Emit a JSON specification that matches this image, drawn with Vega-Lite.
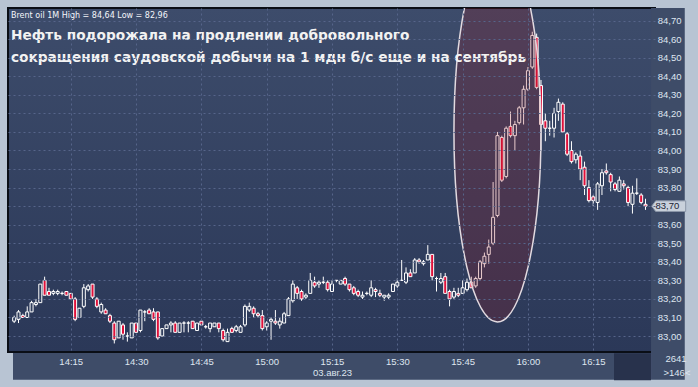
{
  "$schema": "https://vega.github.io/schema/vega-lite/v6.json",
  "width": 647,
  "height": 344,
  "autosize": {"type": "none"},
  "padding": {"left": 8, "top": 8, "right": 43, "bottom": 35},
  "background": "#b8c4d3",
  "title": {
    "text": "Brent oil 1M High = 84,64 Low = 82,96",
    "subtitle": ["Нефть подорожала на продлении добровольного", "сокращения саудовской добычи на 1 мдн б/с еще и на сентябрь"],
    "anchor": "start",
    "frame": "group",
    "orient": "top",
    "offset": -57,
    "dx": 3,
    "font": "DejaVu Sans",
    "fontSize": 8,
    "fontWeight": "normal",
    "color": "#f4f6fa",
    "subtitleFont": "DejaVu Sans",
    "subtitleFontSize": 13.7,
    "subtitleFontWeight": "bold",
    "subtitleColor": "#f2f2f2",
    "subtitleLineHeight": 22.5,
    "subtitlePadding": 9
  },
  "datasets": {
    "candles": [
      {"t":"2023-08-03T14:02","o":83.08,"h":83.11,"l":83.07,"c":83.10},
      {"t":"2023-08-03T14:03","o":83.09,"h":83.14,"l":83.07,"c":83.13},
      {"t":"2023-08-03T14:04","o":83.11,"h":83.12,"l":83.10,"c":83.10},
      {"t":"2023-08-03T14:05","o":83.10,"h":83.16,"l":83.10,"c":83.13},
      {"t":"2023-08-03T14:06","o":83.13,"h":83.19,"l":83.13,"c":83.18},
      {"t":"2023-08-03T14:07","o":83.17,"h":83.20,"l":83.16,"c":83.18},
      {"t":"2023-08-03T14:08","o":83.18,"h":83.28,"l":83.18,"c":83.28},
      {"t":"2023-08-03T14:09","o":83.30,"h":83.32,"l":83.22,"c":83.22},
      {"t":"2023-08-03T14:10","o":83.24,"h":83.26,"l":83.22,"c":83.22},
      {"t":"2023-08-03T14:11","o":83.23,"h":83.25,"l":83.22,"c":83.24},
      {"t":"2023-08-03T14:12","o":83.23,"h":83.25,"l":83.22,"c":83.24},
      {"t":"2023-08-03T14:13","o":83.23,"h":83.24,"l":83.22,"c":83.23},
      {"t":"2023-08-03T14:14","o":83.24,"h":83.24,"l":83.22,"c":83.22},
      {"t":"2023-08-03T14:15","o":83.23,"h":83.23,"l":83.20,"c":83.20},
      {"t":"2023-08-03T14:16","o":83.20,"h":83.21,"l":83.08,"c":83.09},
      {"t":"2023-08-03T14:17","o":83.10,"h":83.15,"l":83.10,"c":83.15},
      {"t":"2023-08-03T14:18","o":83.16,"h":83.28,"l":83.15,"c":83.26},
      {"t":"2023-08-03T14:19","o":83.25,"h":83.28,"l":83.24,"c":83.27},
      {"t":"2023-08-03T14:20","o":83.28,"h":83.28,"l":83.20,"c":83.21},
      {"t":"2023-08-03T14:21","o":83.20,"h":83.21,"l":83.15,"c":83.16},
      {"t":"2023-08-03T14:22","o":83.13,"h":83.18,"l":83.12,"c":83.17},
      {"t":"2023-08-03T14:23","o":83.14,"h":83.15,"l":83.12,"c":83.12},
      {"t":"2023-08-03T14:24","o":83.11,"h":83.12,"l":83.07,"c":83.08},
      {"t":"2023-08-03T14:25","o":83.07,"h":83.08,"l":82.96,"c":82.98},
      {"t":"2023-08-03T14:26","o":82.99,"h":83.08,"l":82.99,"c":83.08},
      {"t":"2023-08-03T14:27","o":83.06,"h":83.07,"l":82.98,"c":83.01},
      {"t":"2023-08-03T14:28","o":83.00,"h":83.02,"l":82.97,"c":83.00},
      {"t":"2023-08-03T14:29","o":82.99,"h":83.07,"l":82.99,"c":83.07},
      {"t":"2023-08-03T14:30","o":83.07,"h":83.07,"l":83.02,"c":83.02},
      {"t":"2023-08-03T14:31","o":83.03,"h":83.14,"l":83.02,"c":83.14},
      {"t":"2023-08-03T14:32","o":83.13,"h":83.14,"l":83.08,"c":83.13},
      {"t":"2023-08-03T14:33","o":83.14,"h":83.15,"l":83.12,"c":83.12},
      {"t":"2023-08-03T14:34","o":83.13,"h":83.15,"l":83.08,"c":83.09},
      {"t":"2023-08-03T14:35","o":83.13,"h":83.13,"l":82.98,"c":82.99},
      {"t":"2023-08-03T14:36","o":83.00,"h":83.04,"l":83.00,"c":83.04},
      {"t":"2023-08-03T14:37","o":83.04,"h":83.06,"l":83.04,"c":83.06},
      {"t":"2023-08-03T14:38","o":83.06,"h":83.08,"l":83.02,"c":83.07},
      {"t":"2023-08-03T14:39","o":83.07,"h":83.08,"l":83.02,"c":83.02},
      {"t":"2023-08-03T14:40","o":83.02,"h":83.07,"l":83.02,"c":83.07},
      {"t":"2023-08-03T14:41","o":83.07,"h":83.08,"l":83.02,"c":83.07},
      {"t":"2023-08-03T14:42","o":83.07,"h":83.08,"l":83.02,"c":83.07},
      {"t":"2023-08-03T14:43","o":83.08,"h":83.08,"l":83.04,"c":83.04},
      {"t":"2023-08-03T14:44","o":83.03,"h":83.07,"l":83.03,"c":83.07},
      {"t":"2023-08-03T14:45","o":83.08,"h":83.08,"l":83.06,"c":83.06},
      {"t":"2023-08-03T14:46","o":83.05,"h":83.06,"l":83.04,"c":83.05},
      {"t":"2023-08-03T14:47","o":83.04,"h":83.07,"l":83.02,"c":83.07},
      {"t":"2023-08-03T14:48","o":83.05,"h":83.07,"l":83.05,"c":83.07},
      {"t":"2023-08-03T14:49","o":83.07,"h":83.07,"l":83.02,"c":83.04},
      {"t":"2023-08-03T14:50","o":83.03,"h":83.04,"l":82.97,"c":82.98},
      {"t":"2023-08-03T14:51","o":82.97,"h":83.04,"l":82.97,"c":83.02},
      {"t":"2023-08-03T14:52","o":83.04,"h":83.05,"l":83.02,"c":83.02},
      {"t":"2023-08-03T14:53","o":83.03,"h":83.06,"l":83.02,"c":83.05},
      {"t":"2023-08-03T14:54","o":83.02,"h":83.06,"l":83.02,"c":83.05},
      {"t":"2023-08-03T14:55","o":83.06,"h":83.17,"l":83.05,"c":83.16},
      {"t":"2023-08-03T14:56","o":83.14,"h":83.18,"l":83.13,"c":83.16},
      {"t":"2023-08-03T14:57","o":83.15,"h":83.16,"l":83.10,"c":83.12},
      {"t":"2023-08-03T14:58","o":83.12,"h":83.13,"l":83.10,"c":83.11},
      {"t":"2023-08-03T14:59","o":83.11,"h":83.14,"l":83.03,"c":83.04},
      {"t":"2023-08-03T15:00","o":83.05,"h":83.08,"l":83.03,"c":83.07},
      {"t":"2023-08-03T15:01","o":83.08,"h":83.10,"l":82.98,"c":83.09},
      {"t":"2023-08-03T15:02","o":83.08,"h":83.14,"l":83.06,"c":83.07},
      {"t":"2023-08-03T15:03","o":83.06,"h":83.10,"l":83.04,"c":83.08},
      {"t":"2023-08-03T15:04","o":83.07,"h":83.13,"l":83.07,"c":83.12},
      {"t":"2023-08-03T15:05","o":83.11,"h":83.21,"l":83.11,"c":83.20},
      {"t":"2023-08-03T15:06","o":83.19,"h":83.30,"l":83.18,"c":83.28},
      {"t":"2023-08-03T15:07","o":83.26,"h":83.27,"l":83.20,"c":83.23},
      {"t":"2023-08-03T15:08","o":83.24,"h":83.25,"l":83.19,"c":83.20},
      {"t":"2023-08-03T15:09","o":83.21,"h":83.23,"l":83.20,"c":83.22},
      {"t":"2023-08-03T15:10","o":83.23,"h":83.34,"l":83.23,"c":83.30},
      {"t":"2023-08-03T15:11","o":83.29,"h":83.32,"l":83.26,"c":83.27},
      {"t":"2023-08-03T15:12","o":83.28,"h":83.30,"l":83.26,"c":83.29},
      {"t":"2023-08-03T15:13","o":83.29,"h":83.32,"l":83.28,"c":83.29},
      {"t":"2023-08-03T15:14","o":83.29,"h":83.30,"l":83.24,"c":83.25},
      {"t":"2023-08-03T15:15","o":83.24,"h":83.30,"l":83.24,"c":83.28},
      {"t":"2023-08-03T15:16","o":83.30,"h":83.30,"l":83.29,"c":83.30},
      {"t":"2023-08-03T15:17","o":83.28,"h":83.30,"l":83.28,"c":83.30},
      {"t":"2023-08-03T15:18","o":83.31,"h":83.32,"l":83.27,"c":83.28},
      {"t":"2023-08-03T15:19","o":83.28,"h":83.28,"l":83.24,"c":83.25},
      {"t":"2023-08-03T15:20","o":83.26,"h":83.27,"l":83.22,"c":83.23},
      {"t":"2023-08-03T15:21","o":83.24,"h":83.25,"l":83.21,"c":83.22},
      {"t":"2023-08-03T15:22","o":83.21,"h":83.24,"l":83.20,"c":83.22},
      {"t":"2023-08-03T15:23","o":83.23,"h":83.24,"l":83.22,"c":83.23},
      {"t":"2023-08-03T15:24","o":83.22,"h":83.30,"l":83.21,"c":83.26},
      {"t":"2023-08-03T15:25","o":83.25,"h":83.26,"l":83.21,"c":83.24},
      {"t":"2023-08-03T15:26","o":83.23,"h":83.25,"l":83.21,"c":83.22},
      {"t":"2023-08-03T15:27","o":83.21,"h":83.22,"l":83.19,"c":83.22},
      {"t":"2023-08-03T15:28","o":83.21,"h":83.23,"l":83.20,"c":83.22},
      {"t":"2023-08-03T15:29","o":83.24,"h":83.28,"l":83.24,"c":83.28},
      {"t":"2023-08-03T15:30","o":83.27,"h":83.31,"l":83.26,"c":83.29},
      {"t":"2023-08-03T15:31","o":83.30,"h":83.41,"l":83.30,"c":83.30},
      {"t":"2023-08-03T15:32","o":83.29,"h":83.37,"l":83.28,"c":83.34},
      {"t":"2023-08-03T15:33","o":83.34,"h":83.36,"l":83.32,"c":83.32},
      {"t":"2023-08-03T15:34","o":83.34,"h":83.42,"l":83.34,"c":83.41},
      {"t":"2023-08-03T15:35","o":83.41,"h":83.42,"l":83.39,"c":83.40},
      {"t":"2023-08-03T15:36","o":83.39,"h":83.41,"l":83.38,"c":83.40},
      {"t":"2023-08-03T15:37","o":83.41,"h":83.49,"l":83.41,"c":83.44},
      {"t":"2023-08-03T15:38","o":83.44,"h":83.44,"l":83.30,"c":83.32},
      {"t":"2023-08-03T15:39","o":83.31,"h":83.32,"l":83.24,"c":83.31},
      {"t":"2023-08-03T15:40","o":83.29,"h":83.34,"l":83.28,"c":83.31},
      {"t":"2023-08-03T15:41","o":83.32,"h":83.34,"l":83.23,"c":83.23},
      {"t":"2023-08-03T15:42","o":83.24,"h":83.25,"l":83.16,"c":83.20},
      {"t":"2023-08-03T15:43","o":83.21,"h":83.26,"l":83.20,"c":83.24},
      {"t":"2023-08-03T15:44","o":83.23,"h":83.26,"l":83.21,"c":83.22},
      {"t":"2023-08-03T15:45","o":83.23,"h":83.30,"l":83.23,"c":83.26},
      {"t":"2023-08-03T15:46","o":83.25,"h":83.31,"l":83.24,"c":83.29},
      {"t":"2023-08-03T15:47","o":83.29,"h":83.32,"l":83.26,"c":83.26},
      {"t":"2023-08-03T15:48","o":83.27,"h":83.32,"l":83.26,"c":83.31},
      {"t":"2023-08-03T15:49","o":83.31,"h":83.41,"l":83.30,"c":83.40},
      {"t":"2023-08-03T15:50","o":83.39,"h":83.45,"l":83.37,"c":83.43},
      {"t":"2023-08-03T15:51","o":83.44,"h":83.52,"l":83.39,"c":83.48},
      {"t":"2023-08-03T15:52","o":83.50,"h":83.83,"l":83.49,"c":83.64},
      {"t":"2023-08-03T15:53","o":83.65,"h":84.10,"l":83.64,"c":84.08},
      {"t":"2023-08-03T15:54","o":84.07,"h":84.08,"l":83.83,"c":83.84},
      {"t":"2023-08-03T15:55","o":83.86,"h":84.13,"l":83.85,"c":84.12},
      {"t":"2023-08-03T15:56","o":84.13,"h":84.21,"l":84.07,"c":84.08},
      {"t":"2023-08-03T15:57","o":84.08,"h":84.16,"l":84.00,"c":84.14},
      {"t":"2023-08-03T15:58","o":84.15,"h":84.24,"l":84.14,"c":84.23},
      {"t":"2023-08-03T15:59","o":84.23,"h":84.35,"l":84.14,"c":84.33},
      {"t":"2023-08-03T16:00","o":84.33,"h":84.45,"l":84.32,"c":84.43},
      {"t":"2023-08-03T16:01","o":84.45,"h":84.64,"l":84.44,"c":84.62},
      {"t":"2023-08-03T16:02","o":84.61,"h":84.63,"l":84.33,"c":84.34},
      {"t":"2023-08-03T16:03","o":84.35,"h":84.38,"l":84.00,"c":84.14},
      {"t":"2023-08-03T16:04","o":84.16,"h":84.20,"l":84.05,"c":84.12},
      {"t":"2023-08-03T16:05","o":84.12,"h":84.16,"l":84.08,"c":84.12},
      {"t":"2023-08-03T16:06","o":84.12,"h":84.23,"l":84.07,"c":84.20},
      {"t":"2023-08-03T16:07","o":84.21,"h":84.28,"l":84.16,"c":84.26},
      {"t":"2023-08-03T16:08","o":84.25,"h":84.26,"l":84.10,"c":84.10},
      {"t":"2023-08-03T16:09","o":84.09,"h":84.10,"l":83.97,"c":83.98},
      {"t":"2023-08-03T16:10","o":84.00,"h":84.05,"l":83.93,"c":83.94},
      {"t":"2023-08-03T16:11","o":83.95,"h":83.99,"l":83.93,"c":83.98},
      {"t":"2023-08-03T16:12","o":83.97,"h":84.00,"l":83.84,"c":83.90},
      {"t":"2023-08-03T16:13","o":83.91,"h":83.94,"l":83.76,"c":83.81},
      {"t":"2023-08-03T16:14","o":83.80,"h":83.84,"l":83.72,"c":83.73},
      {"t":"2023-08-03T16:15","o":83.75,"h":83.76,"l":83.70,"c":83.73},
      {"t":"2023-08-03T16:16","o":83.72,"h":83.83,"l":83.68,"c":83.82},
      {"t":"2023-08-03T16:17","o":83.81,"h":83.90,"l":83.76,"c":83.88},
      {"t":"2023-08-03T16:18","o":83.89,"h":83.93,"l":83.87,"c":83.88},
      {"t":"2023-08-03T16:19","o":83.87,"h":83.88,"l":83.78,"c":83.83},
      {"t":"2023-08-03T16:20","o":83.82,"h":83.83,"l":83.78,"c":83.79},
      {"t":"2023-08-03T16:21","o":83.78,"h":83.86,"l":83.78,"c":83.84},
      {"t":"2023-08-03T16:22","o":83.82,"h":83.84,"l":83.79,"c":83.81},
      {"t":"2023-08-03T16:23","o":83.80,"h":83.81,"l":83.70,"c":83.72},
      {"t":"2023-08-03T16:24","o":83.71,"h":83.81,"l":83.66,"c":83.77},
      {"t":"2023-08-03T16:25","o":83.77,"h":83.85,"l":83.76,"c":83.77},
      {"t":"2023-08-03T16:26","o":83.76,"h":83.77,"l":83.71,"c":83.72},
      {"t":"2023-08-03T16:27","o":83.71,"h":83.74,"l":83.68,"c":83.70}
    ],
    "focus": [{"t": "2023-08-03T15:53", "p": 84.10}],
    "last": [{"t": "2023-08-03T16:27", "p": 83.70}]
  },
  "resolve": {"axis": {"x": "independent", "y": "independent"}},
  "layer": [
    {
      "data": {"name": "candles"},
      "mark": {"type": "rule", "color": "#ffffff", "strokeWidth": 1},
      "encoding": {
        "x": {
          "field": "t",
          "type": "temporal",
          "scale": {"domain": [
            {"year": 2023, "month": 8, "date": 3, "hours": 14, "minutes": 1, "seconds": 44},
            {"year": 2023, "month": 8, "date": 3, "hours": 16, "minutes": 28, "seconds": 2}
          ]},
          "axis": null
        },
        "y": {
          "field": "l",
          "type": "quantitative",
          "scale": {"domain": [82.914, 84.768], "nice": false, "zero": false},
          "axis": null
        },
        "y2": {"field": "h"}
      }
    },
    {
      "data": {"name": "last"},
      "mark": {"type": "rect", "color": "#3e4c68", "opacity": 1, "clip": false},
      "encoding": {
        "x": {"datum": {"year": 2023, "month": 8, "date": 3, "hours": 16, "minutes": 28, "seconds": 16}, "type": "temporal", "axis": null},
        "x2": {"datum": {"year": 2023, "month": 8, "date": 3, "hours": 16, "minutes": 36, "seconds": 1}},
        "y": {"datum": 82.764, "type": "quantitative", "axis": null},
        "y2": {"datum": 84.768}
      }
    },
    {
      "data": {"name": "last"},
      "mark": {"type": "rect", "color": "#3e4c68", "opacity": 1, "clip": false},
      "encoding": {
        "x": {"datum": {"year": 2023, "month": 8, "date": 3, "hours": 14, "minutes": 1, "seconds": 44}, "type": "temporal", "axis": null},
        "x2": {"datum": {"year": 2023, "month": 8, "date": 3, "hours": 16, "minutes": 28, "seconds": 16}},
        "y": {"datum": 82.764, "type": "quantitative", "axis": null},
        "y2": {"datum": 82.908}
      }
    },
    {
      "data": {"name": "candles"},
      "mark": {"type": "bar", "width": 3, "stroke": "#ffffff", "strokeWidth": 1},
      "encoding": {
        "x": {"field": "t", "type": "temporal", "axis": null},
        "y": {"field": "o", "type": "quantitative", "axis": null},
        "y2": {"field": "c"},
        "fill": {"condition": {"test": "datum.c < datum.o", "value": "#e0103a"}, "value": "#303e5d"}
      }
    },
    {
      "data": {"name": "focus"},
      "mark": {
        "type": "point",
        "shape": "M 0 -1 C 0.1265 -1 0.229 -0.5523 0.229 0 C 0.229 0.5523 0.1265 1 0 1 C -0.1265 1 -0.229 0.5523 -0.229 0 C -0.229 -0.5523 -0.1265 -1 0 -1 Z",
        "size": 144400,
        "filled": true,
        "fill": "#9e1418",
        "fillOpacity": 0.22,
        "stroke": "#e2dae0",
        "strokeWidth": 1.5,
        "strokeOpacity": 1,
        "opacity": 1,
        "clip": true
      },
      "encoding": {
        "x": {"field": "t", "type": "temporal", "axis": null},
        "y": {"field": "p", "type": "quantitative", "axis": null}
      }
    },
    {
      "data": {"name": "last"},
      "mark": {
        "type": "point",
        "shape": "M 0.155 0 L 0.255 -0.1325 L 1.005 -0.1325 L 1.005 0.1325 L 0.255 0.1325 Z",
        "size": 6400,
        "filled": true,
        "fill": "#c9d1dc",
        "stroke": "#8a96a8",
        "strokeWidth": 1,
        "opacity": 1
      },
      "encoding": {
        "x": {
          "field": "t",
          "type": "temporal",
          "title": "2641",
          "axis": {
            "orient": "bottom",
            "zindex": 1,
            "values": [
              {"year": 2023, "month": 8, "date": 3, "hours": 14, "minutes": 15},
              {"year": 2023, "month": 8, "date": 3, "hours": 14, "minutes": 30},
              {"year": 2023, "month": 8, "date": 3, "hours": 14, "minutes": 45},
              {"year": 2023, "month": 8, "date": 3, "hours": 15, "minutes": 0},
              {"year": 2023, "month": 8, "date": 3, "hours": 15, "minutes": 15},
              {"year": 2023, "month": 8, "date": 3, "hours": 15, "minutes": 30},
              {"year": 2023, "month": 8, "date": 3, "hours": 15, "minutes": 45},
              {"year": 2023, "month": 8, "date": 3, "hours": 16, "minutes": 0},
              {"year": 2023, "month": 8, "date": 3, "hours": 16, "minutes": 15}
            ],
            "tickCount": 100,
            "labelExpr": "timeFormat(datum.value, '%H:%M') == '15:15' ? [timeFormat(datum.value, '%H:%M'), timeFormat(datum.value, '%d.%b.%y')] : timeFormat(datum.value, '%H:%M')",
            "grid": true,
            "gridColor": "#56658a",
            "gridDash": [2, 3],
            "gridWidth": 1,
            "ticks": false,
            "tickSize": 0,
            "domain": false,
            "offset": 0.75,
            "labelPadding": 3.25,
            "labelBaseline": "top",
            "labelFont": "Liberation Sans",
            "labelFontSize": 9.5,
            "labelColor": "#dfe6f0",
            "labelLineHeight": 11,
            "labelFlush": false,
            "labelOverlap": false,
            "titleX": 657,
            "titleY": 1,
            "titleAlign": "left",
            "titleBaseline": "top",
            "titleFont": "Liberation Sans",
            "titleFontSize": 9.5,
            "titleFontWeight": "normal",
            "titleColor": "#dfe6f0"
          }
        },
        "y": {
          "field": "p",
          "type": "quantitative",
          "title": null,
          "axis": {
            "orient": "right",
            "zindex": 1,
            "values": [83.0, 83.1, 83.2, 83.3, 83.4, 83.5, 83.6, 83.7, 83.8, 83.9, 84.0, 84.1, 84.2, 84.3, 84.4, 84.5, 84.6, 84.7],
            "tickCount": 100,
            "labelExpr": "abs(datum.value - 83.7) < 0.001 ? '' : replace(format(datum.value, '.2f'), '.', ',')",
            "grid": true,
            "gridColor": "#56658a",
            "gridDash": [2, 3],
            "gridWidth": 1,
            "ticks": false,
            "tickSize": 0,
            "domain": false,
            "offset": 0.75,
            "labelPadding": 1.5,
            "labelAlign": "left",
            "labelBaseline": "middle",
            "labelFont": "Liberation Sans",
            "labelFontSize": 9.5,
            "labelColor": "#dfe6f0",
            "labelFlush": false,
            "labelOverlap": false
          }
        }
      }
    },
    {
      "data": {"name": "last"},
      "mark": {"type": "text", "align": "left", "baseline": "middle", "dx": 10, "font": "Liberation Sans", "fontSize": 9.5, "color": "#1b2433"},
      "encoding": {
        "x": {
          "field": "t",
          "type": "temporal",
          "title": ">146<",
          "axis": {
            "orient": "bottom",
            "zindex": 1,
            "values": [{"year": 2023, "month": 8, "date": 3, "hours": 16, "minutes": 23, "seconds": 51}],
            "tickCount": 100,
            "ticks": true,
            "tickSize": 27,
            "tickWidth": 37,
            "tickColor": "#28324c",
            "tickOpacity": 1,
            "labels": false,
            "grid": false,
            "domain": false,
            "offset": 0.75,
            "titleX": 655,
            "titleY": 15,
            "titleAlign": "left",
            "titleBaseline": "top",
            "titleFont": "Liberation Sans",
            "titleFontSize": 9.5,
            "titleFontWeight": "normal",
            "titleColor": "#dfe6f0"
          }
        },
        "y": {"field": "p", "type": "quantitative", "axis": null},
        "text": {"field": "p", "type": "quantitative", "format": ".2f"}
      }
    }
  ],
  "config": {
    "view": {
      "fill": {"gradient": "linear", "x1": 0, "y1": 0, "x2": 0, "y2": 1, "stops": [{"offset": 0, "color": "#3d4c6b"}, {"offset": 1, "color": "#2b3858"}]},
      "stroke": "#0a0e16",
      "strokeWidth": 2
    },
    "locale": {
      "number": {"decimal": ",", "thousands": " ", "grouping": [3], "currency": ["", " руб."]},
      "time": {
        "dateTime": "%A, %e %B %Y г. %X",
        "date": "%d.%m.%Y",
        "time": "%H:%M:%S",
        "periods": ["AM", "PM"],
        "days": ["воскресенье", "понедельник", "вторник", "среда", "четверг", "пятница", "суббота"],
        "shortDays": ["вс", "пн", "вт", "ср", "чт", "пт", "сб"],
        "months": ["января", "февраля", "марта", "апреля", "мая", "июня", "июля", "августа", "сентября", "октября", "ноября", "декабря"],
        "shortMonths": ["янв", "фев", "мар", "апр", "май", "июн", "июл", "авг", "сен", "окт", "ноя", "дек"]
      }
    }
  }
}
